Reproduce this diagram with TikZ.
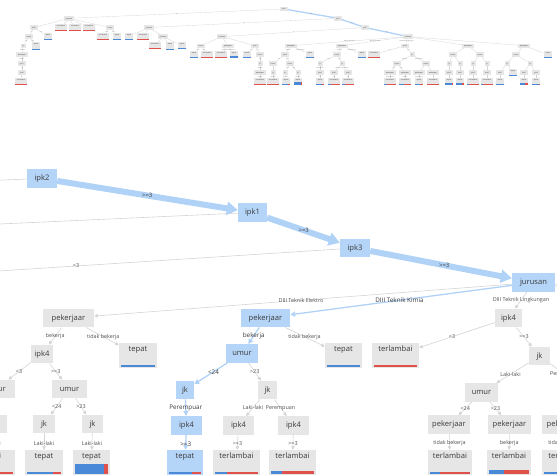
\documentclass[tikz,border=0pt]{standalone}
\usepackage{fontspec}
\setmainfont{Open Sans}
\usetikzlibrary{arrows.meta,calc}
\definecolor{gfill}{HTML}{E6E6E6}
\definecolor{bfill}{HTML}{B5D5F8}
\definecolor{thinc}{HTML}{D4D4D4}
\definecolor{pathc}{HTML}{B0D2F7}
\definecolor{barb}{HTML}{4A88D8}
\definecolor{barr}{HTML}{E0514C}
\definecolor{txtc}{HTML}{3A3A3A}
\definecolor{lblc}{HTML}{505050}
% detail node: name x y width style text
\newcommand\dNode[6]{\node[dnode,#5,minimum width=#4pt] (#1) at (#2,#3) {#6};}
% detail leaf: name x ytop width text style bluefrac barthickness
\newcommand\dLeaf[8]{%
 \node[dleaf,#6,minimum width=#4pt] (#1) at (#2,{#3+12.5}) {#5};%
 \coordinate (#1-l) at ($(#1.south west)+(2.5,-1.5)$);%
 \coordinate (#1-r) at ($(#1.south east)+(-2.5,-1.5)$);%
 \fill[barb] (#1-l) rectangle ($(#1-l)!#7!(#1-r)+(0,-#8)$);%
 \fill[barr] ($(#1-l)!#7!(#1-r)$) rectangle ($(#1-r)+(0,-#8)$);}
% detail edge with label: parent child edgestyle labelstyle label
\newcommand\dEdge[5]{\draw[#3] (#1) -- (#2);\path (#1.center) -- node[#4]{#5} (#2.center);}
% overview internal node / leaf / edge
\newcommand\oInt[4]{\node[oint] (#1) at (#2,#3) {#4};}
\newcommand\oLeaf[6]{%
 \node[oleaf] (#1) at (#2,#3) {#4};%
 \coordinate (#1-l) at ($(#1.south west)+(0.6,-0.4)$);%
 \coordinate (#1-r) at ($(#1.south east)+(-0.6,-0.4)$);%
 \fill[barb] (#1-l) rectangle ($(#1-l)!#5!(#1-r)+(0,-#6)$);%
 \fill[barr] ($(#1-l)!#5!(#1-r)$) rectangle ($(#1-r)+(0,-#6)$);}
\newcommand\oEdge[3]{\draw[oedge] (#1) -- (#2);\path (#1.center) -- node[olbl]{#3} (#2.center);}
\newcommand\oEdgeN[2]{\draw[oedge] (#1) -- (#2);}
\begin{document}
\begin{tikzpicture}[x=1pt,y=-1pt,
  dnode/.style={inner sep=0pt, minimum height=18.5pt, font=\fontsize{7.6}{9}\selectfont, text=txtc, text height=5.5pt, text depth=1.5pt},
  dleaf/.style={inner sep=0pt, font=\fontsize{7.6}{9}\selectfont, text=txtc, text height=8.5pt, text depth=16.5pt},
  gnd/.style={fill=gfill}, bnd/.style={fill=bfill},
  thinedge/.style={draw=thinc, line width=0.6pt, -{Triangle[length=3.5pt,width=3.5pt]}},
  blueedge/.style={draw=pathc, line width=1.3pt, -{Triangle[length=5pt,width=5pt]}},
  thickedge/.style={draw=pathc, line width=6pt, -{Triangle[length=11pt,width=13pt]}},
  lbl/.style={font=\fontsize{5.4}{6}\selectfont, text=lblc, inner sep=0.3pt},
  blbl/.style={font=\fontsize{6.3}{7}\selectfont, text=txtc, inner sep=0.3pt},
  tlbl/.style={font=\fontsize{6}{7}\selectfont, text=txtc, inner sep=0.3pt},
  oint/.style={fill=gfill, inner xsep=1.8pt, inner ysep=0pt, font=\fontsize{1.8}{2}\selectfont, text=txtc, text height=2.9pt, text depth=1.5pt},
  oleaf/.style={fill=gfill, inner xsep=2.3pt, inner ysep=0pt, font=\fontsize{1.8}{2}\selectfont, text=txtc, text height=2.6pt, text depth=4.4pt},
  oedge/.style={draw=thinc, line width=0.3pt},
  opath/.style={draw=pathc, line width=1.3pt},
  olbl/.style={font=\fontsize{1.3}{1.5}\selectfont, text=lblc, inner sep=0pt}]
\useasboundingbox (0,0) rectangle (557,474);
\clip (0,0) rectangle (557,474);

% ================= overview (thumbnail) =================
\oInt{o0}{284}{9}{ipk2}
\oInt{oA}{69}{18.3}{jurusan}
\oInt{oB}{338}{18.3}{ipk1}
\oInt{oA1}{34}{27.5}{ipk4}
\oLeaf{oA2}{61}{27.5}{terlambai}{0}{0.6}
\oLeaf{oA3}{75}{27.5}{terlambai}{0}{0.6}
\oLeaf{oA4}{89}{27.5}{terlambai}{0}{0.6}
\oInt{oA5}{110}{27.5}{umur}
\oInt{oB1}{149}{27.5}{jurusan}
\oInt{oC}{365}{27.5}{ipk3}
\oInt{oA6}{29}{36.6}{umur}
\oLeaf{oA7}{48}{36.6}{tepat}{1}{0.5}
\oLeaf{oA14}{103}{36.6}{terlambai}{0}{0.6}
\oLeaf{oA15}{117}{36.6}{tepat}{1}{0.5}
\oLeaf{oB3}{129}{36.6}{tepat}{1}{0.5}
\oLeaf{oB4}{143}{36.6}{terlambai}{0}{0.6}
\oInt{oB5}{163}{36.6}{jurusan}
\oInt{oC1}{222}{36.6}{jurusan}
\oInt{oC2}{408}{36.6}{jurusan}
\oInt{oA8}{23}{45.7}{jk}
\oLeaf{oA9}{36}{45.7}{tepat}{1}{0.5}
\oLeaf{oB6}{155}{45.7}{terlambai}{0}{0.6}
\oLeaf{oB7}{170}{45.7}{tepat}{1}{0.5}
\oLeaf{oB8}{182}{45.7}{tepat}{1}{0.6}
\oInt{oC3}{201}{45.7}{umur}
\oInt{oC4}{228}{45.7}{pekerjaar}
\oInt{oC5}{255}{45.7}{ipk4}
\oInt{oD1}{291}{45.7}{pekerjaar}
\oInt{oD2}{342}{45.7}{pekerjaar}
\oInt{oD3}{405}{45.7}{ipk4}
\oInt{oD4}{468}{45.7}{pekerjaar}
\oInt{oD5}{524}{45.7}{pekerjaar}
\oInt{oA10}{22}{54.5}{pekerjaar}
\oLeaf{oC6}{194}{54.5}{tepat}{1}{0.5}
\oLeaf{oC7}{207}{54.5}{terlambai}{0}{0.6}
\oLeaf{oC8}{221}{54.5}{terlambai}{0}{0.6}
\oLeaf{oC9}{234}{54.5}{tepat}{1}{2}
\oLeaf{oC10}{247}{54.5}{tepat}{1}{0.5}
\oInt{oC11}{260}{54.5}{umur}
\oInt{oE1}{285}{54.5}{ipk4}
\oLeaf{oE2}{310}{54.5}{tepat}{1}{0.5}
\oInt{oE3}{337}{54.5}{umur}
\oLeaf{oE4}{362}{54.5}{tepat}{1}{0.5}
\oLeaf{oE5}{374}{54.5}{terlambai}{0}{0.6}
\oInt{oE6}{412}{54.5}{jk}
\oInt{oE7}{453}{54.5}{umur}
\oInt{oE8}{480}{54.5}{umur}
\oInt{oE9}{516}{54.5}{umur}
\oLeaf{oE10}{548}{54.5}{tepat}{1}{0.5}
\oInt{oA11}{22}{63.4}{ipk1}
\oInt{oC12}{260}{63.4}{jk}
\oInt{oF1}{273}{63.4}{umur}
\oInt{oF2}{290}{63.4}{umur}
\oInt{oF3}{320}{63.4}{jk}
\oInt{oF4}{342}{63.4}{jk}
\oInt{oF5}{397}{63.4}{umur}
\oInt{oF6}{426}{63.4}{umur}
\oInt{oF7}{449}{63.4}{jk}
\oInt{oF8}{460}{63.4}{jk}
\oInt{oF9}{473}{63.4}{jk}
\oInt{oF10}{487}{63.4}{jk}
\oInt{oF11}{507}{63.4}{jk}
\oInt{oF12}{530}{63.4}{jk}
\oInt{oA12}{22}{72.3}{ipk3}
\oInt{oC13}{260}{72.3}{pekerjaar}
\oInt{oG1}{273}{72.3}{jk}
\oInt{oG2}{285}{72.3}{jk}
\oInt{oG3}{298}{72.3}{jk}
\oInt{oG4}{320}{72.3}{ipk4}
\oInt{oG5}{334}{72.3}{ipk4}
\oInt{oG6}{348}{72.3}{ipk4}
\oInt{oG7}{390}{72.3}{pekerjaar}
\oInt{oG8}{405}{72.3}{pekerjaar}
\oInt{oG9}{419}{72.3}{pekerjaar}
\oInt{oG10}{433}{72.3}{pekerjaar}
\oInt{oG11}{449}{72.3}{ipk4}
\oInt{oG12}{460}{72.3}{ipk4}
\oInt{oG13}{473}{72.3}{ipk4}
\oInt{oG14}{487}{72.3}{ipk4}
\oInt{oG15}{500}{72.3}{ipk4}
\oLeaf{oG16}{513}{72.3}{tepat}{1}{0.5}
\oInt{oG17}{524}{72.3}{ipk4}
\oInt{oG18}{536}{72.3}{ipk4}
\oLeaf{oA13}{21}{81.2}{terlambai}{0}{0.6}
\oLeaf{oC14}{260}{81.2}{terlambai}{0}{0.6}
\oLeaf{oH1}{273}{81.2}{terlambai}{0}{0.6}
\oLeaf{oH2}{286}{81.2}{tepat}{0.76}{0.6}
\oLeaf{oH3}{298}{81.2}{tepat}{0.9}{2.2}
\oLeaf{oH4}{320}{81.2}{tepat}{0.7}{0.6}
\oLeaf{oH5}{334}{81.2}{terlambai}{0.27}{0.6}
\oLeaf{oH6}{348}{81.2}{terlambai}{0.23}{0.8}
\oLeaf{oH7}{390}{81.2}{terlambai}{0.23}{0.6}
\oLeaf{oH8}{405}{81.2}{terlambai}{0.38}{1}
\oLeaf{oH9}{419}{81.2}{tepat}{0.6}{0.6}
\oLeaf{oH10}{433}{81.2}{terlambai}{0}{0.6}
\oLeaf{oH11}{449}{81.2}{tepat}{0.85}{2}
\oLeaf{oH12}{460}{81.2}{tepat}{0.8}{2}
\oLeaf{oH13}{473}{81.2}{terlambai}{0.2}{0.8}
\oLeaf{oH14}{487}{81.2}{terlambai}{0.2}{0.8}
\oLeaf{oH15}{500}{81.2}{tepat}{1}{0.6}
\oLeaf{oH17}{524}{81.2}{tepat}{0.6}{1.5}
\oLeaf{oH18}{536}{81.2}{tepat}{0.9}{0.6}
% overview edges
\oEdge{o0}{oA}{<3}
\draw[opath] (o0) -- (oB); \path (o0.center) -- node[olbl]{>=3} (oB.center);
\draw[opath] (oB) -- (oC); \path (oB.center) -- node[olbl]{>=3} (oC.center);
\draw[opath] (oC) -- (oC2); \path (oC.center) -- node[olbl]{>=3} (oC2.center);
\oEdge{oB}{oB1}{<3}
\oEdge{oC}{oC1}{<3}
\oEdgeN{oA}{oA1}\oEdgeN{oA}{oA2}\oEdgeN{oA}{oA3}\oEdgeN{oA}{oA4}\oEdgeN{oA}{oA5}
\oEdge{oA1}{oA6}{<3}\oEdge{oA1}{oA7}{>=3}
\oEdge{oA6}{oA8}{<24}\oEdge{oA6}{oA9}{>23}
\oEdge{oA8}{oA10}{Laki-laki}\oEdge{oA10}{oA11}{bekerja}\oEdge{oA11}{oA12}{>=3}\oEdge{oA12}{oA13}{<3}
\oEdge{oA5}{oA14}{<24}\oEdge{oA5}{oA15}{>23}
\oEdgeN{oB1}{oB3}\oEdgeN{oB1}{oB4}\oEdgeN{oB1}{oB5}
\oEdgeN{oB5}{oB6}\oEdgeN{oB5}{oB7}\oEdgeN{oB5}{oB8}
\oEdgeN{oC1}{oC3}\oEdgeN{oC1}{oC4}\oEdgeN{oC1}{oC5}
\oEdge{oC3}{oC6}{<24}\oEdge{oC3}{oC7}{>23}
\oEdge{oC4}{oC8}{bekerja}\oEdge{oC4}{oC9}{tidak bekerja}
\oEdge{oC5}{oC10}{<3}\oEdge{oC5}{oC11}{>=3}
\oEdge{oC11}{oC12}{<24}\oEdge{oC12}{oC13}{Laki-laki}\oEdge{oC13}{oC14}{bekerja}
\oEdge{oC2}{oD1}{DIII Teknik Elektro}\oEdge{oC2}{oD2}{DIII Teknik Kimia}\oEdge{oC2}{oD3}{DIII Teknik Lingkungan}
\oEdgeN{oC2}{oD4}\oEdgeN{oC2}{oD5}
\oEdge{oD1}{oE1}{bekerja}\oEdge{oD1}{oE2}{tidak bekerja}
\oEdge{oE1}{oF1}{<3}\oEdge{oE1}{oF2}{>=3}
\oEdgeN{oF1}{oG1}\oEdge{oG1}{oH1}{Laki-laki}
\oEdge{oF2}{oG2}{<24}\oEdge{oF2}{oG3}{>23}
\oEdge{oG2}{oH2}{Laki-laki}\oEdge{oG3}{oH3}{Laki-laki}
\oEdge{oD2}{oE3}{bekerja}\oEdge{oD2}{oE4}{tidak bekerja}
\oEdge{oE3}{oF3}{<24}\oEdge{oE3}{oF4}{>23}
\oEdge{oF3}{oG4}{Perempuan}\oEdge{oF4}{oG5}{Laki-laki}\oEdge{oF4}{oG6}{Perempuan}
\oEdge{oG4}{oH4}{>=3}\oEdge{oG5}{oH5}{>=3}\oEdge{oG6}{oH6}{>=3}
\oEdge{oD3}{oE5}{<3}\oEdge{oD3}{oE6}{>=3}
\oEdge{oE6}{oF5}{Laki-laki}\oEdge{oE6}{oF6}{Perempuan}
\oEdge{oF5}{oG7}{<24}\oEdge{oF5}{oG8}{>23}
\oEdge{oG7}{oH7}{tidak bekerja}\oEdge{oG8}{oH8}{bekerja}
\oEdgeN{oF6}{oG9}\oEdgeN{oF6}{oG10}
\oEdge{oG9}{oH9}{tidak bekerja}\oEdgeN{oG10}{oH10}
\oEdgeN{oD4}{oE7}\oEdgeN{oD4}{oE8}
\oEdgeN{oE7}{oF7}\oEdgeN{oE7}{oF8}\oEdgeN{oE8}{oF9}\oEdgeN{oE8}{oF10}
\oEdgeN{oF7}{oG11}\oEdgeN{oF8}{oG12}\oEdgeN{oF9}{oG13}\oEdgeN{oF10}{oG14}
\oEdgeN{oG11}{oH11}\oEdgeN{oG12}{oH12}\oEdgeN{oG13}{oH13}\oEdgeN{oG14}{oH14}
\oEdgeN{oD5}{oE9}\oEdgeN{oD5}{oE10}
\oEdgeN{oE9}{oF11}\oEdgeN{oE9}{oF12}
\oEdgeN{oF11}{oG15}\oEdgeN{oF11}{oG16}\oEdgeN{oF12}{oG17}\oEdgeN{oF12}{oG18}
\oEdgeN{oG15}{oH15}\oEdgeN{oG17}{oH17}\oEdgeN{oG18}{oH18}

% ================= detail view =================
\dNode{ipkA}{42}{178.5}{30}{bnd}{ipk2}
\dNode{ipkB}{252.5}{212.5}{29}{bnd}{ipk1}
\dNode{ipkC}{355}{248}{30}{bnd}{ipk3}
\dNode{jur}{533.5}{282.5}{43}{bnd}{jurusan}
\dNode{pkL}{68.5}{318}{51}{gnd}{pekerjaar}
\dNode{pkM}{265.5}{318}{49}{bnd}{pekerjaar}
\dNode{ipkR}{508.5}{318}{27}{gnd}{ipk4}
\dNode{ipkL}{42}{354}{22}{gnd}{ipk4}
\dNode{umurM}{242}{353.5}{32}{bnd}{umur}
\dNode{jkR}{539.5}{356}{21}{gnd}{jk}
\dNode{cutL6}{-4}{389}{38}{gnd}{umur}
\dNode{umurL}{69.5}{389}{35}{gnd}{umur}
\dNode{jkM1}{185}{390}{18}{bnd}{jk}
\dNode{jkM2}{267.5}{390}{19}{gnd}{jk}
\dNode{umurR}{481.5}{392.5}{33}{gnd}{umur}
\dNode{offR}{590}{392.5}{33}{gnd}{umur}
\dNode{cutL7}{-3}{424}{20}{gnd}{jk}
\dNode{jkL1}{44}{424}{22}{gnd}{jk}
\dNode{jkL2}{92.5}{424}{21}{gnd}{jk}
\dNode{ipkM1}{186.5}{425.5}{31}{bnd}{ipk4}
\dNode{ipkM2}{238.5}{425.5}{31}{gnd}{ipk4}
\dNode{ipkM3}{293.5}{425.5}{31}{gnd}{ipk4}
\dNode{pkR1}{449}{424.5}{42}{gnd}{pekerjaar}
\dNode{pkR2}{509.5}{424.5}{43}{gnd}{pekerjaar}
\dNode{pkR3}{563.5}{424.5}{43}{gnd}{pekerjaar}
\dLeaf{tepL}{138}{343}{38}{tepat}{gnd}{1}{1.4}
\dLeaf{tepM}{343.5}{343}{37}{tepat}{gnd}{1}{1.4}
\dLeaf{terR0}{395.5}{343}{47}{terlambai}{gnd}{0}{1.4}
\dLeaf{cutL8}{-16}{450}{62}{terlambai}{gnd}{0}{2}
\dLeaf{tepL1}{44}{450}{38}{tepat}{gnd}{0.76}{2}
\dLeaf{tepL2}{91.5}{450}{37}{tepat}{gnd}{0.9}{10}
\dLeaf{tepM1}{185}{450}{36}{tepat}{bnd}{0.71}{2}
\dLeaf{terM2}{236.5}{450}{47}{terlambai}{gnd}{0.27}{2}
\dLeaf{terM3}{292.5}{450}{47}{terlambai}{gnd}{0.25}{3}
\dLeaf{terR1}{450}{450}{44}{terlambai}{gnd}{0.25}{2}
\dLeaf{terR2}{509}{450}{44}{terlambai}{gnd}{0.37}{4}
\dLeaf{terR3}{565.5}{450}{47}{terlambai}{gnd}{0.4}{2}
\coordinate (offA) at (-781,210);
\coordinate (offB) at (-473,245.5);
\coordinate (offC) at (-203,284);
\coordinate (offD4) at (755,318);
\coordinate (offD5) at (971,318);
% edges
\draw[thinedge] (ipkA) -- (offA);
\draw[thinedge] (ipkB) -- (offB);
\dEdge{ipkC}{offC}{thinedge}{lbl}{<3}
\dEdge{ipkA}{ipkB}{thickedge}{tlbl}{>=3}
\dEdge{ipkB}{ipkC}{thickedge}{tlbl}{>=3}
\dEdge{ipkC}{jur}{thickedge}{tlbl}{>=3}
\dEdge{jur}{pkL}{thinedge}{lbl}{DIII Teknik Elektro}
\dEdge{jur}{pkM}{blueedge}{blbl}{DIII Teknik Kimia}
\dEdge{jur}{ipkR}{thinedge}{lbl}{DIII Teknik Lingkungan}
\draw[thinedge] (jur) -- (offD4);
\draw[thinedge] (jur) -- (offD5);
\dEdge{pkL}{ipkL}{thinedge}{lbl}{bekerja}
\dEdge{pkL}{tepL}{thinedge}{lbl}{tidak bekerja}
\dEdge{ipkL}{cutL6}{thinedge}{lbl}{<3}
\dEdge{ipkL}{umurL}{thinedge}{lbl}{>=3}
\draw[thinedge] (cutL6) -- (cutL7);
\dEdge{cutL7}{cutL8}{thinedge}{lbl}{Laki-laki}
\dEdge{umurL}{jkL1}{thinedge}{lbl}{<24}
\dEdge{umurL}{jkL2}{thinedge}{lbl}{>23}
\dEdge{jkL1}{tepL1}{thinedge}{lbl}{Laki-laki}
\dEdge{jkL2}{tepL2}{thinedge}{lbl}{Laki-laki}
\dEdge{pkM}{umurM}{blueedge}{blbl}{bekerja}
\dEdge{pkM}{tepM}{thinedge}{lbl}{tidak bekerja}
\dEdge{umurM}{jkM1}{blueedge}{blbl}{<24}
\dEdge{umurM}{jkM2}{thinedge}{lbl}{>23}
\dEdge{jkM1}{ipkM1}{blueedge}{blbl}{Perempuar}
\dEdge{jkM2}{ipkM2}{thinedge}{lbl}{Laki-laki}
\dEdge{jkM2}{ipkM3}{thinedge}{lbl}{Perempuan}
\dEdge{ipkM1}{tepM1}{blueedge}{blbl}{>=3}
\dEdge{ipkM2}{terM2}{thinedge}{lbl}{>=3}
\dEdge{ipkM3}{terM3}{thinedge}{lbl}{>=3}
\dEdge{ipkR}{terR0}{thinedge}{lbl}{<3}
\dEdge{ipkR}{jkR}{thinedge}{lbl}{>=3}
\dEdge{jkR}{umurR}{thinedge}{lbl}{Laki-laki}
\dEdge{jkR}{offR}{thinedge}{lbl}{Perempuan}
\dEdge{umurR}{pkR1}{thinedge}{lbl}{<24}
\dEdge{umurR}{pkR2}{thinedge}{lbl}{>23}
\draw[thinedge] (offR) -- (pkR3);
\dEdge{pkR1}{terR1}{thinedge}{lbl}{tidak bekerja}
\dEdge{pkR2}{terR2}{thinedge}{lbl}{bekerja}
\dEdge{pkR3}{terR3}{thinedge}{lbl}{tidak bekerja}
\end{tikzpicture}
\end{document}
